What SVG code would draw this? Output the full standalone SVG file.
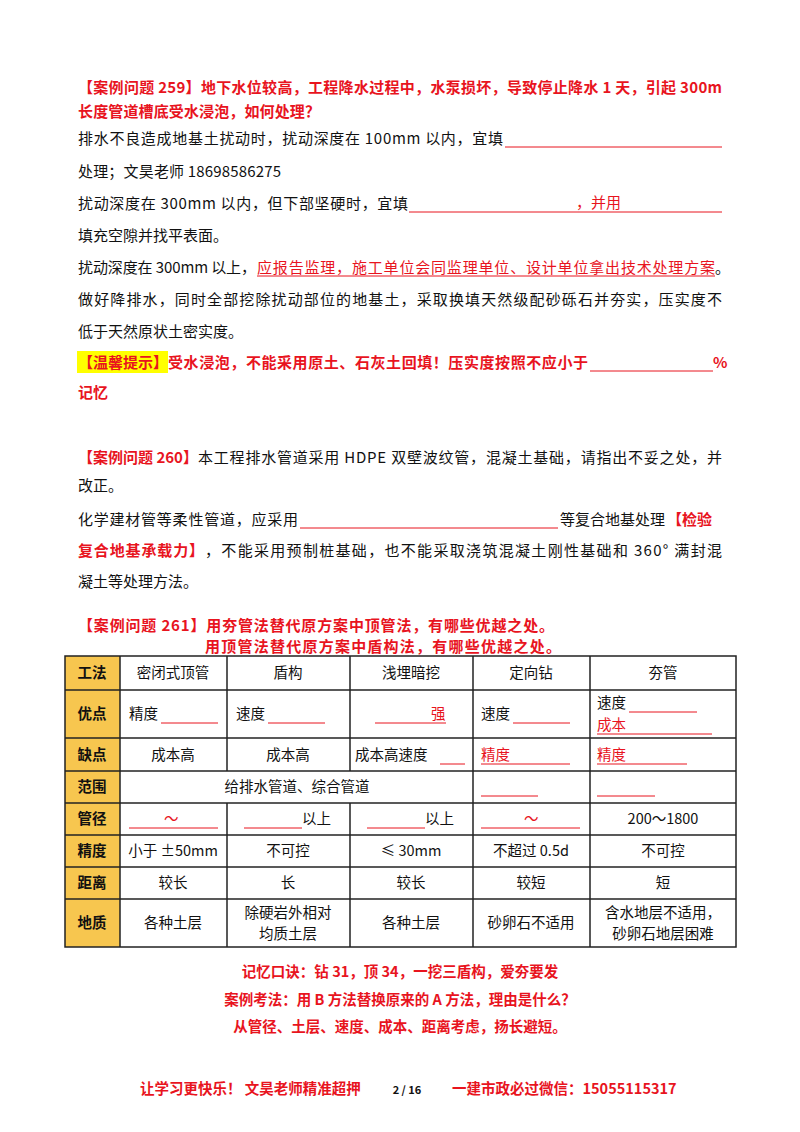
<svg xmlns="http://www.w3.org/2000/svg" width="800" height="1132" viewBox="0 0 800 1132">
<style>
text{font-family:"Noto Sans CJK SC","Noto Sans",sans-serif;font-size:15px;fill:#111}
.r{fill:#e8141e}
.b{font-weight:bold}
.c{text-anchor:middle}
.t{font-size:14.5px}
.u{stroke:#e8141e;stroke-width:1}
.g{stroke:#222;stroke-width:1.5}
</style>
<rect width="800" height="1132" fill="#fff"/>
<g id="q259">
<text x="78" y="93" class="r b" textLength="644">【案例问题 259】地下水位较高，工程降水过程中，水泵损坏，导致停止降水 1 天，引起 300m</text>
<text x="78" y="117" class="r b" textLength="242">长度管道槽底受水浸泡，如何处理？</text>
<text x="78" y="144" textLength="425">排水不良造成地基土扰动时，扰动深度在 100mm 以内，宜填</text>
<line x1="505" y1="147" x2="722" y2="147" class="u"/>
<text x="78" y="177" textLength="203">处理；文昊老师 18698586275</text>
<text x="78" y="209" textLength="330">扰动深度在 300mm 以内，但下部坚硬时，宜填</text>
<line x1="409" y1="212" x2="722" y2="212" class="u"/>
<text x="576" y="208" class="r">，并用</text>
<text x="78" y="241">填充空隙并找平表面。</text>
<text x="78" y="273" textLength="178">扰动深度在 300mm 以上，</text>
<text x="257" y="273" class="r" textLength="458">应报告监理，施工单位会同监理单位、设计单位拿出技术处理方案</text>
<line x1="257" y1="276" x2="715" y2="276" class="u"/>
<text x="715" y="273">。</text>
<text x="78" y="305" textLength="644">做好降排水，同时全部挖除扰动部位的地基土，采取换填天然级配砂砾石并夯实，压实度不</text>
<text x="78" y="337">低于天然原状土密实度。</text>
<rect x="77" y="351" width="91" height="22" fill="#ffff00"/>
<text x="78" y="368" class="r b">【温馨提示】</text>
<text x="168" y="368" class="r b" textLength="420">受水浸泡，不能采用原土、石灰土回填！压实度按照不应小于</text>
<line x1="590" y1="371" x2="713" y2="371" class="u"/>
<text x="713" y="368" class="r b">%</text>
<text x="78" y="398" class="r b">记忆</text>
</g>
<g id="q260">
<text x="78" y="463" class="r b">【案例问题 260】</text>
<text x="198" y="463" textLength="524">本工程排水管道采用 HDPE 双壁波纹管，混凝土基础，请指出不妥之处，并</text>
<text x="78" y="491">改正。</text>
<text x="78" y="525" textLength="220">化学建材管等柔性管道，应采用</text>
<line x1="300" y1="528" x2="558" y2="528" class="u"/>
<text x="560" y="525">等复合地基处理</text>
<text x="667" y="525" class="r b">【检验</text>
<text x="78" y="556" class="r b" textLength="126">复合地基承载力】</text>
<text x="205" y="556" textLength="517">，不能采用预制桩基础，也不能采取浇筑混凝土刚性基础和 360° 满封混</text>
<text x="78" y="587">凝土等处理方法。</text>
</g>
<g id="q261">
<text x="78" y="631" class="r b" textLength="476">【案例问题 261】用夯管法替代原方案中顶管法，有哪些优越之处。</text>
<text x="383" y="652" class="r b c" textLength="356">用顶管法替代原方案中盾构法，有哪些优越之处。</text>
</g>
<g id="table">
<rect x="65" y="656" width="55" height="291" fill="#f7c64f"/>
<rect x="65" y="656" width="671" height="291" fill="none" class="g"/>
<g class="g">
<line x1="120" y1="656" x2="120" y2="947"/>
<line x1="227" y1="656" x2="227" y2="771"/><line x1="227" y1="803" x2="227" y2="947"/>
<line x1="350" y1="656" x2="350" y2="771"/><line x1="350" y1="803" x2="350" y2="947"/>
<line x1="473" y1="656" x2="473" y2="947"/>
<line x1="590" y1="656" x2="590" y2="947"/>
<line x1="65" y1="690" x2="736" y2="690"/>
<line x1="65" y1="738" x2="736" y2="738"/>
<line x1="65" y1="771" x2="736" y2="771"/>
<line x1="65" y1="803" x2="736" y2="803"/>
<line x1="65" y1="835" x2="736" y2="835"/>
<line x1="65" y1="867" x2="736" y2="867"/>
<line x1="65" y1="899" x2="736" y2="899"/>
</g>
<g class="t">
<text x="92" y="678" class="c t b">工法</text><text x="92" y="719" class="c t b">优点</text><text x="92" y="760" class="c t b">缺点</text><text x="92" y="792" class="c t b">范围</text><text x="92" y="824" class="c t b">管径</text><text x="92" y="856" class="c t b">精度</text><text x="92" y="888" class="c t b">距离</text><text x="92" y="928" class="c t b">地质</text>
<text x="173" y="678" class="c t">密闭式顶管</text><text x="288" y="678" class="c t">盾构</text><text x="411" y="678" class="c t">浅埋暗挖</text><text x="531" y="678" class="c t">定向钻</text><text x="663" y="678" class="c t">夯管</text>
<text x="129" y="719" class="t">精度</text><text x="236" y="719" class="t">速度</text><text x="431" y="719" class="t r">强</text><text x="481" y="719" class="t">速度</text>
<text x="597" y="708" class="t">速度</text><text x="597" y="730" class="t r">成本</text>
<text x="173" y="760" class="c t">成本高</text><text x="288" y="760" class="c t">成本高</text><text x="355" y="760" class="t">成本高速度</text><text x="481" y="760" class="t r">精度</text><text x="597" y="760" class="t r">精度</text>
<text x="297" y="792" class="c t">给排水管道、综合管道</text>
<text x="164" y="824" class="t r">～</text><text x="302" y="824" class="t">以上</text><text x="425" y="824" class="t">以上</text><text x="524" y="824" class="t r">～</text><text x="663" y="824" class="c t">200～1800</text>
<text x="173" y="856" class="c t">小于 ±50mm</text><text x="288" y="856" class="c t">不可控</text><text x="411" y="856" class="c t">≤ 30mm</text><text x="531" y="856" class="c t">不超过 0.5d</text><text x="663" y="856" class="c t">不可控</text>
<text x="173" y="888" class="c t">较长</text><text x="288" y="888" class="c t">长</text><text x="411" y="888" class="c t">较长</text><text x="531" y="888" class="c t">较短</text><text x="663" y="888" class="c t">短</text>
<text x="173" y="928" class="c t">各种土层</text><text x="288" y="918" class="c t">除硬岩外相对</text><text x="288" y="939" class="c t">均质土层</text><text x="411" y="928" class="c t">各种土层</text><text x="531" y="928" class="c t">砂卵石不适用</text><text x="663" y="918" class="c t">含水地层不适用，</text><text x="663" y="939" class="c t">砂卵石地层困难</text>
</g>
<g class="u">
<line x1="161" y1="723" x2="218" y2="723"/><line x1="268" y1="723" x2="325" y2="723"/><line x1="375" y1="723" x2="446" y2="723"/><line x1="513" y1="723" x2="570" y2="723"/>
<line x1="629" y1="712" x2="697" y2="712"/><line x1="597" y1="734" x2="712" y2="734"/>
<line x1="440" y1="764" x2="465" y2="764"/><line x1="481" y1="764" x2="570" y2="764"/><line x1="597" y1="764" x2="687" y2="764"/>
<line x1="481" y1="796" x2="538" y2="796"/><line x1="597" y1="796" x2="655" y2="796"/>
<line x1="129" y1="828" x2="218" y2="828"/><line x1="244" y1="828" x2="302" y2="828"/><line x1="367" y1="828" x2="425" y2="828"/><line x1="481" y1="828" x2="580" y2="828"/>
</g>
</g>
<g id="summary">
<text x="400" y="977" class="r b c t">记忆口诀：钻 31，顶 34，一挖三盾构，爱夯要发</text>
<text x="400" y="1005" class="r b c t">案例考法：用 B 方法替换原来的 A 方法，理由是什么？</text>
<text x="400" y="1032" class="r b c t">从管径、土层、速度、成本、距离考虑，扬长避短。</text>
</g>
<g id="footer">
<text x="140" y="1094" class="r b t">让学习更快乐！ 文昊老师精准超押</text>
<text x="407" y="1094" class="b c" style="font-size:11px">2 / 16</text>
<text x="452" y="1094" class="r b t">一建市政必过微信：15055115317</text>
</g>
</svg>
